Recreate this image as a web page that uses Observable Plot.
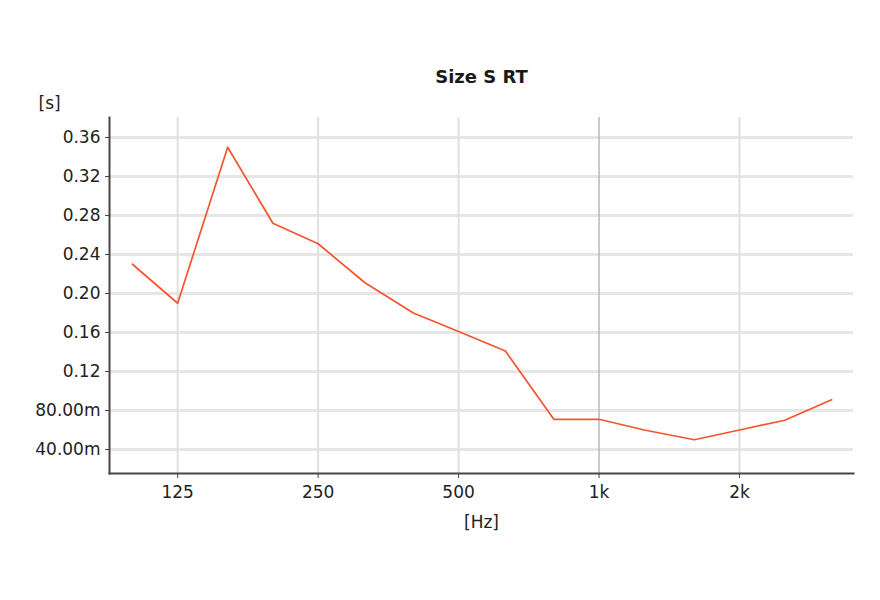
<!DOCTYPE html>
<html><head><meta charset="utf-8">
<script src="https://cdn.jsdelivr.net/npm/d3@7"></script>
<script src="https://cdn.jsdelivr.net/npm/@observablehq/plot@0.6"></script>
<style>body{margin:0;background:#fff}</style>
</head><body><div id="chart"></div>
<script>
const freqs = [100,125,160,200,250,315,400,500,630,800,1000,1250,1600,2000,2500,3150];
const rt = [0.23,0.19,0.35,0.272,0.251,0.211,0.18,0.161,0.141,0.071,0.071,0.06,0.05,0.06,0.07,0.091];
const xTicks = [125,250,500,1000,2000];
const xTickLabels = ["125","250","500","1k","2k"];
const yTicks = [0.04,0.08,0.12,0.16,0.20,0.24,0.28,0.32,0.36];
const yTickLabels = ["40.00m","80.00m","0.12","0.16","0.20","0.24","0.28","0.32","0.36"];
const title = "Size S RT";
const yUnit = "[s]";
const xUnit = "[Hz]";

const data = freqs.map((f, i) => ({f, v: rt[i]}));
const font = "DejaVu Sans, sans-serif";

const chart = Plot.plot({
  width: 880,
  height: 600,
  marginLeft: 109,
  marginRight: 27,
  marginTop: 117,
  marginBottom: 127,
  style: {fontFamily: font, color: "#222", background: "#fff"},
  x: {type: "log", domain: [89.3, 3510]},
  y: {domain: [0.0154, 0.3805]},
  marks: [
    Plot.gridY(yTicks, {stroke: "#e6e6e6", strokeWidth: 3, strokeOpacity: 1}),
    Plot.gridX(xTicks.filter(d => d !== 1000), {stroke: "#e0e0e0", strokeWidth: 2, strokeOpacity: 1}),
    Plot.gridX([1000], {stroke: "#b8b8c2", strokeWidth: 1.5, strokeOpacity: 1}),
    Plot.line(data, {x: "f", y: "v", stroke: "#f4552c", strokeWidth: 1.7}),
    Plot.axisY(yTicks, {tickFormat: d => yTickLabels[yTicks.indexOf(d)], tickSize: 4, tickPadding: 5, fontSize: 17, stroke: "#444", fill: "#222", label: null}),
    Plot.axisX(xTicks, {tickFormat: d => xTickLabels[xTicks.indexOf(d)], tickSize: 5, tickPadding: 7, fontSize: 17, stroke: "#444", fill: "#222", label: null}),
    Plot.frame({anchor: "left", stroke: "#4a4545", strokeWidth: 2}),
    Plot.frame({anchor: "bottom", stroke: "#4a4545", strokeWidth: 2}),
    Plot.text([title], {frameAnchor: "top", dy: -40, lineAnchor: "middle", fontSize: 18, fontWeight: "bold", fill: "#1a1a1a"}),
    Plot.text([yUnit], {frameAnchor: "top-left", dx: -71, dy: -14, lineAnchor: "middle", fontSize: 17, fill: "#222"}),
    Plot.text([xUnit], {frameAnchor: "bottom", dy: 49, lineAnchor: "middle", fontSize: 17, fill: "#222"})
  ]
});
document.getElementById("chart").appendChild(chart);
</script>
</body></html>
